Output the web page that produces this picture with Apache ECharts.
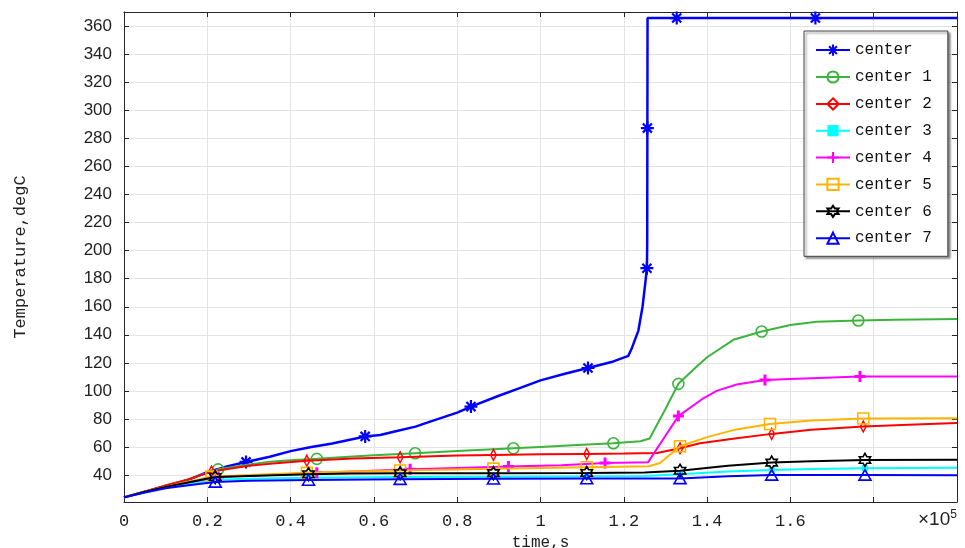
<!DOCTYPE html>
<html>
<head>
<meta charset="utf-8">
<script src="https://cdn.jsdelivr.net/npm/echarts@6/dist/echarts.min.js"></script>
<style>html,body{margin:0;padding:0;background:#fff;}#chart{width:965px;height:548px;}</style>
</head>
<body>
<div id="chart"></div>
<script>
// time in units of 1e5 s
const names = ['center','center 1','center 2','center 3','center 4','center 5','center 6','center 7'];
const colors = ['#0000ff','#3cb43c','#ff0000','#00ffff','#ff00ff','#ffb400','#000000','#0000ff'];

const T_c = [0,0.05,0.1,0.15,0.2,0.247,0.293,0.35,0.4,0.45,0.5,0.579,0.615,0.65,0.7,0.735,0.8,0.833,0.9,0.95,1.0,1.063,1.114,1.175,1.211,1.22,1.235,1.245,1.252,1.2555,1.2562,1.2566,1.257,1.327,1.66,2.0];
const V_c = [24,28,32,36,42,46,49.3,53,57,60,62.5,67.5,68.5,71,74.5,78,84.5,88.8,96.5,102,107.5,112.6,116.3,121,125,131,143,160,178,187.5,205,287.5,366,366,366,366];
const M_c = [0.293,0.579,0.833,1.114,1.2555,1.2566,1.327,1.66];

const T_1 = [0,0.05,0.1,0.15,0.226,0.3,0.35,0.4,0.463,0.55,0.6,0.699,0.8,0.935,1.0,1.1,1.175,1.24,1.262,1.3,1.331,1.37,1.4,1.463,1.531,1.6,1.663,1.763,1.85,2.0];
const V_1 = [24,28,32.5,36.5,44,47.5,49.5,50.5,51.5,53.2,54,55.5,57,59,60,61.5,62.6,64,66,87,105,116,124,136.4,142.3,147,149.3,150.2,150.8,151.3];
const M_1 = [0.226,0.463,0.699,0.935,1.175,1.331,1.531,1.763];

const T_2 = [0,0.05,0.1,0.15,0.21,0.3,0.35,0.439,0.55,0.663,0.8,0.887,1.0,1.111,1.2,1.28,1.335,1.383,1.471,1.555,1.65,1.775,1.9,2.0];
const V_2 = [24,28,32.5,36.5,42.4,46.5,48,50.2,51.8,52.6,53.8,54.3,54.7,55,55.3,55.7,59,62.6,66.2,69.3,72.2,74.6,76,77];
const M_2 = [0.21,0.439,0.663,0.887,1.111,1.335,1.555,1.775];

const T_3 = [0,0.05,0.1,0.15,0.219,0.3,0.443,0.663,0.887,1.111,1.25,1.335,1.45,1.555,1.65,1.779,2.0];
const V_3 = [24,27.5,31,33.5,36.5,37.3,38,38.5,38.8,39,39.3,40.5,42.5,43.6,44.3,44.8,45.2];
const M_3 = [0.219,0.443,0.663,0.887,1.111,1.335,1.555,1.779];

const T_4 = [0,0.05,0.1,0.15,0.226,0.3,0.463,0.55,0.687,0.8,0.923,1.05,1.155,1.258,1.3,1.331,1.391,1.423,1.471,1.539,1.6,1.767,2.0];
const V_4 = [24,28,31.5,34.5,38.5,39.5,41.5,42.5,44,45,46,47,48.5,49,68,82,94.7,100,104.5,107.8,108.5,110.2,110.2];
const M_4 = [0.226,0.463,0.687,0.923,1.155,1.331,1.539,1.767];

const T_5 = [0,0.05,0.1,0.15,0.21,0.3,0.439,0.55,0.663,0.887,1.111,1.26,1.287,1.335,1.4,1.47,1.551,1.65,1.775,2.0];
const V_5 = [24,28,31.5,35,38.8,40,41.5,42.5,43.2,44.5,45.5,46.2,48.5,60.5,67,72.5,76.4,78.8,80.3,80.4];
const M_5 = [0.21,0.439,0.663,0.887,1.111,1.335,1.551,1.775];

const T_6 = [0,0.05,0.1,0.15,0.219,0.3,0.443,0.55,0.663,0.887,1.111,1.25,1.335,1.45,1.555,1.65,1.779,2.0];
const V_6 = [24,28,31.5,34.5,38.5,39.3,40.5,41,41.2,41.3,41.4,41.8,43,46.5,48.8,49.8,50.7,50.8];
const M_6 = [0.219,0.443,0.663,0.887,1.111,1.335,1.555,1.779];

const T_7 = [0,0.05,0.1,0.15,0.219,0.3,0.443,0.663,0.887,1.111,1.335,1.45,1.555,1.779,2.0];
const V_7 = [24,27.5,30.5,32.5,35,35.8,36.4,37,37.3,37.4,37.5,39,40,40,39.8];
const M_7 = [0.219,0.443,0.663,0.887,1.111,1.335,1.555,1.779];

const yTicks = [40,60,80,100,120,140,160,180,200,220,240,260,280,300,320,340,360];
const xTicks = [0,0.2,0.4,0.6,0.8,1,1.2,1.4,1.6,1.8,2];
const xLabels = ['0','0.2','0.4','0.6','0.8','1','1.2','1.4','1.6','',''];

const T_all = [T_c,T_1,T_2,T_3,T_4,T_5,T_6,T_7];
const V_all = [V_c,V_1,V_2,V_3,V_4,V_5,V_6,V_7];
const M_all = [M_c,M_1,M_2,M_3,M_4,M_5,M_6,M_7];

const S = 'path://';
const symbols = [
  S+'M0,-10L0,10M-10,0L10,0M-7,-7L7,7M-7,7L7,-7',
  S+'M10,0A10,10,0,1,1,-10,0A10,10,0,1,1,10,0Z',
  S+'M0,-10L7,0L0,10L-7,0Z',
  'rect',
  S+'M0,-10L0,10M-10,0L10,0',
  S+'M-10,-10L10,-10L10,10L-10,10Z',
  S+'M0,-10L2.887,-5L8.66,-5L5.774,0L8.66,5L2.887,5L0,10L-2.887,5L-8.66,5L-5.774,0L-8.66,-5L-2.887,-5Z',
  S+'M0,-10L8.66,5L-8.66,5Z'
];
const symSizes = [13, 11, [8,11], 6, 11, 11, 13, 12];
const symFill = ['none','none','none','#00ffff','none','none','none','none'];
const symBorder = [2.2,1.6,1.5,0,3,1.6,1.6,1.6];
const lineW = [2.5,2,2,2,2,2,2,2];

const series = names.map((n,i) => {
  const data = T_all[i].map((t,j) => {
    const isM = M_all[i].indexOf(t) >= 0;
    return isM ? {value:[t, V_all[i][j]]} : {value:[t, V_all[i][j]], symbol:'none'};
  });
  return {
    name: n, type: 'line', data: data,
    xAxisIndex: 0, yAxisIndex: 0,
    symbol: symbols[i], symbolSize: symSizes[i], symbolKeepAspect: true,
    showSymbol: true, showAllSymbol: true,
    lineStyle: {color: colors[i], width: lineW[i]},
    itemStyle: {color: symFill[i], borderColor: colors[i], borderWidth: symBorder[i]},
    emphasis: {disabled: true},
    animation: false, z: 2 + i
  };
});

const chart = echarts.init(document.getElementById('chart'));
const axisCol = '#262626';
chart.setOption({
  backgroundColor: '#fff',
  animation: false,
  grid: {left: 124, right: 8, top: 12, bottom: 46, containLabel: false, outerBoundsMode: 'none'},
  xAxis: [{
    type: 'value', min: 0, max: 2, interval: 0.2,
    name: 'time,s', nameLocation: 'middle', nameGap: 29,
    nameTextStyle: {fontFamily: 'Liberation Mono', fontSize: 16, color: '#222'},
    axisLine: {show: true, lineStyle: {color: axisCol, width: 1}},
    axisTick: {show: true, inside: true, length: 5, lineStyle: {color: axisCol}},
    axisLabel: {margin: 11, fontFamily: 'Liberation Mono', fontSize: 17, color: '#222',
      formatter: v => { const k = xTicks.findIndex(x => Math.abs(x - v) < 1e-6); return k >= 0 ? xLabels[k] : ''; }},
    splitLine: {show: true, lineStyle: {color: '#e3e3e3', width: 1}}
  }, {
    type: 'value', min: 0, max: 2, interval: 0.2, position: 'top',
    axisLine: {show: true, onZero: false, lineStyle: {color: axisCol, width: 1}},
    axisTick: {show: true, inside: true, length: 5, lineStyle: {color: axisCol}},
    axisLabel: {show: false}, splitLine: {show: false}
  }],
  yAxis: [{
    type: 'value', min: 20.7, max: 370.3,
    name: 'Temperature,degC', nameLocation: 'middle', nameGap: 95,
    nameTextStyle: {fontFamily: 'Liberation Mono', fontSize: 17, color: '#222'},
    axisLine: {show: true, lineStyle: {color: axisCol, width: 1}},
    axisTick: {show: true, inside: true, length: 5, customValues: yTicks, lineStyle: {color: axisCol}},
    axisLabel: {margin: 12, fontFamily: 'Liberation Sans', fontSize: 17, color: '#222', customValues: yTicks},
    splitLine: {show: true, lineStyle: {color: '#e3e3e3', width: 1}}
  }, {
    type: 'value', min: 20.7, max: 370.3, position: 'right',
    axisLine: {show: true, onZero: false, lineStyle: {color: axisCol, width: 1}},
    axisTick: {show: true, inside: true, length: 5, customValues: yTicks, lineStyle: {color: axisCol}},
    axisLabel: {show: false}, splitLine: {show: false}
  }],
  legend: {
    orient: 'vertical', left: 804, top: 31,
    padding: [11, 16, 10, 11],
    itemWidth: 34, itemHeight: 14, itemGap: 10.7,
    backgroundColor: '#fff', borderColor: '#444', borderWidth: 1,
    shadowColor: 'rgba(0,0,0,0.45)', shadowBlur: 2, shadowOffsetX: 2, shadowOffsetY: 2,
    textStyle: {fontFamily: 'Liberation Mono', fontSize: 16, color: '#111'},
    data: names
  },
  graphic: [{
    type: 'text', left: 918, top: 509,
    style: {
      text: '×10{s|5}',
      rich: {s: {fontFamily: 'Liberation Sans', fontSize: 12, verticalAlign: 'top', padding: [0,0,10,0]}},
      fontFamily: 'Liberation Sans', fontSize: 19, fill: '#222'
    }
  }],
  series: series
});
</script>
</body>
</html>
